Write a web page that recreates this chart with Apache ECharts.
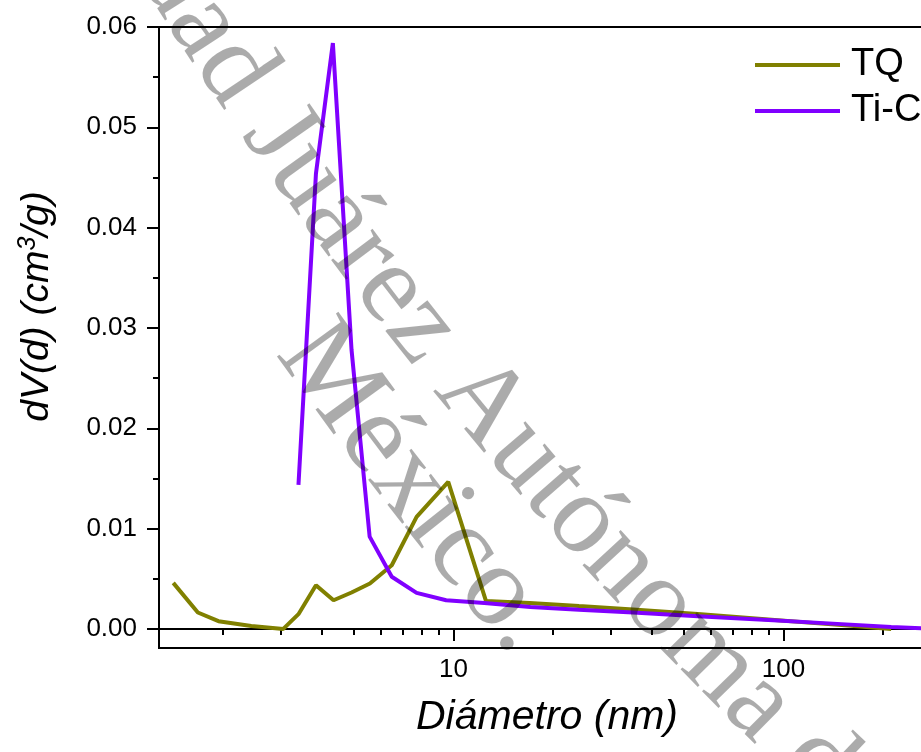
<!DOCTYPE html>
<html><head><meta charset="utf-8">
<script src="https://cdn.jsdelivr.net/npm/echarts@6/dist/echarts.min.js"></script>
<style>html,body{margin:0;padding:0;background:#fff}#c{width:921px;height:752px}</style>
</head><body><div id="c"></div>
<script>
// ---- data ----
const tqDiam = [1.415, 1.68, 1.94, 2.44, 3.05, 3.39, 3.83, 4.33, 4.91, 5.58, 6.50, 7.73, 9.64, 12.54, 17, 24, 35, 55, 90, 150, 212];
const tqVal  = [0.00459, 0.00164, 0.00077, 0.00030, 0.00000, 0.00147, 0.00436, 0.00286, 0.00363, 0.00453, 0.00635, 0.01117, 0.01466, 0.00279, 0.00259, 0.00228, 0.00195, 0.00150, 0.00095, 0.00038, 0.00000];
const ticDiam = [3.39, 3.83, 4.31, 4.91, 5.57, 6.50, 7.73, 9.5, 12.4, 17.1, 24, 35, 55, 90, 150, 212, 285];
const ticVal  = [0.01435, 0.0454, 0.0584, 0.0278, 0.0092, 0.0052, 0.0036, 0.00286, 0.00259, 0.00219, 0.00192, 0.00163, 0.00127, 0.00088, 0.00048, 0.00020, 0.00000];
const seriesNames = ['TQ', 'Ti-C'];
const xMajorTicks = [10, 100];
const xMinorTicks = [2, 3, 4, 5, 6, 7, 8, 9, 20, 30, 40, 50, 60, 70, 80, 90, 200];
const yMajorTicks = [0, 0.01, 0.02, 0.03, 0.04, 0.05, 0.06];
const yMinorTicks = [0.005, 0.015, 0.025, 0.035, 0.045, 0.055];
const watermarkLines = ['Universidad Juárez Autónoma de Tabasco', 'México.'];

const FONT = '"Liberation Sans", Arial, sans-serif';
const X_MIN = Math.pow(10, 1 - 294.5 / 330);
const X_MAX = Math.pow(10, 1 + 481.5 / 330);
const Y_MIN = -0.0019, Y_MAX = 0.06;

// ---- arched watermark (each character placed along a large circle) ----
const WM_FAMILY = '"Liberation Serif", "Times New Roman", serif';
function arcText(str, fontSize, cx, cy, anchorIdx, anchorDeg, radius) {
  const ctx = document.createElement('canvas').getContext('2d');
  ctx.font = fontSize + 'px ' + WM_FAMILY;
  const chars = Array.from(str);
  const centers = chars.map((c, i) => ctx.measureText(chars.slice(0, i).join('')).width + ctx.measureText(c).width / 2);
  const s0 = centers[anchorIdx];
  const out = [];
  chars.forEach((c, i) => {
    if (c === ' ') return;
    const phi = anchorDeg * Math.PI / 180 - (centers[i] - s0) / radius;
    out.push({
      type: 'text', silent: true, z: 100,
      x: cx + radius * Math.cos(phi), y: cy + radius * Math.sin(phi),
      rotation: Math.PI / 2 - phi,
      style: {text: c, fontFamily: WM_FAMILY, fontSize: fontSize, fill: 'rgba(0,0,0,0.33)', align: 'center', verticalAlign: 'middle'}
    });
  });
  return out;
}
const wmElements = arcText(watermarkLines[0], 113, 3657, -2225, 19, 140.39, 4122)
  .concat(arcText(watermarkLines[1], 116, 3746, -2107, 0, 143.97, 4224));

const chart = echarts.init(document.getElementById('c'), null, {renderer: 'canvas'});
const baseX = {type: 'log', logBase: 10, min: X_MIN, max: X_MAX, position: 'bottom', splitLine: {show: false}, minorTick: {show: false}};
const baseY = {type: 'value', min: Y_MIN, max: Y_MAX, position: 'left', splitLine: {show: false}};

chart.setOption({
  animation: false,
  backgroundColor: '#fff',
  grid: {left: 159, top: 27, width: 776, bottom: 104, show: true, borderColor: '#000', borderWidth: 2,
         containLabel: false, outerBoundsMode: 'none'},
  legend: {
    orient: 'vertical', left: 750, top: 41, itemWidth: 85, itemHeight: 4, itemGap: 8, icon: 'rect',
    data: seriesNames,
    textStyle: {fontFamily: FONT, fontSize: 38, color: '#000', lineHeight: 38, padding: [0, 0, 0, 6]}
  },
  xAxis: [
    Object.assign({}, baseX, {
      name: 'Diámetro (nm)', nameLocation: 'middle', nameGap: 49,
      nameTextStyle: {fontFamily: FONT, fontStyle: 'italic', fontSize: 41, color: '#000'},
      axisLine: {show: true, lineStyle: {color: '#000', width: 2}},
      axisTick: {show: true, inside: false, length: 12, customValues: xMajorTicks, lineStyle: {color: '#000', width: 2}},
      axisLabel: {show: true, customValues: xMajorTicks, margin: 9, fontFamily: FONT, fontSize: 26, color: '#000'}
    }),
    Object.assign({}, baseX, {
      axisLine: {show: false},
      axisTick: {show: true, inside: false, length: 6, customValues: xMinorTicks, lineStyle: {color: '#000', width: 2}},
      axisLabel: {show: false}
    })
  ],
  yAxis: [
    Object.assign({}, baseY, {
      name: '{i|dV(d) (cm}{s|3}{i|/g)}', nameLocation: 'middle', nameGap: 101,
      nameTextStyle: {padding: [0, 0, 0, 62], rich: {
        i: {fontFamily: FONT, fontStyle: 'italic', fontSize: 39, color: '#000', lineHeight: 42},
        s: {fontFamily: FONT, fontStyle: 'italic', fontSize: 25, color: '#000', verticalAlign: 'top', lineHeight: 42, padding: [0, 0, 14, 0]}
      }},
      axisLine: {show: true, lineStyle: {color: '#000', width: 2}},
      axisTick: {show: true, inside: false, length: 12, customValues: yMajorTicks, lineStyle: {color: '#000', width: 2}},
      axisLabel: {show: true, customValues: yMajorTicks, margin: 22, fontFamily: FONT, fontSize: 26, color: '#000', formatter: v => Number(v).toFixed(2)}
    }),
    Object.assign({}, baseY, {
      axisLine: {show: false},
      axisTick: {show: true, inside: false, length: 6, customValues: yMinorTicks, lineStyle: {color: '#000', width: 2}},
      axisLabel: {show: false}
    })
  ],
  series: [
    {name: seriesNames[0], type: 'line', xAxisIndex: 0, yAxisIndex: 0, showSymbol: false, symbol: 'none',
     color: '#808000', lineStyle: {color: '#808000', width: 4}, z: 2,
     data: tqDiam.map((d, i) => [d, tqVal[i]])},
    {name: seriesNames[1], type: 'line', xAxisIndex: 0, yAxisIndex: 0, showSymbol: false, symbol: 'none',
     color: '#8000ff', lineStyle: {color: '#8000ff', width: 4}, z: 3,
     data: ticDiam.map((d, i) => [d, ticVal[i]])}
  ],
  graphic: {elements: wmElements}
});
</script></body></html>
